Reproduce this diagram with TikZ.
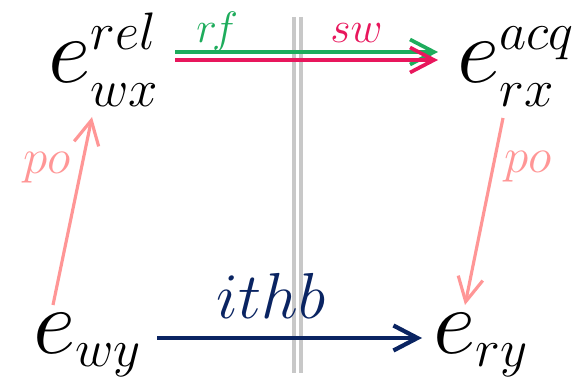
\RequirePackage{fix-cm}
\documentclass[tikz,border=0pt]{standalone}
\usepackage{amsmath}
\usepackage{tikz}
\usetikzlibrary{arrows.meta,positioning,calc}
\DeclareMathSizes{53}{53}{30}{22}
\definecolor{rfgreen}{RGB}{30,172,92}
\definecolor{swred}{RGB}{232,22,92}
\definecolor{popink}{RGB}{255,150,150}
\definecolor{hbnavy}{RGB}{10,36,98}
\definecolor{sepgray}{RGB}{200,200,200}

\begin{document}
\begin{tikzpicture}[>={Straight Barb[length=4.8mm,width=5mm]},
   ev/.style={inner sep=0pt,font=\fontsize{53}{60}\selectfont},
   lbl/.style={inner sep=0pt,font=\fontsize{25}{30}\selectfont},
   rel/.style={->,line width=2.1pt},
   po/.style={->,line width=1.8pt,draw=popink},
   sep/.style={line width=1.8pt,draw=sepgray}]
  \useasboundingbox (0,0) rectangle (11.44,7.62);
  % thread separator
  \draw[sep] (5.88,7.28) -- (5.88,0.16);
  \draw[sep] (6.02,7.28) -- (6.02,0.16);
  % events
  \node[ev,anchor=base west] (wx) at (0.96,5.96) {$e^{rel}_{wx}$};
  \node[ev,anchor=base west] (rx) at (9.14,5.96) {$e^{acq}_{rx}$};
  \node[ev,anchor=base west] (wy) at (0.66,0.56) {$e_{wy}$};
  \node[ev,anchor=base west] (ry) at (8.66,0.56) {$e_{ry}$};
  % reads-from and synchronises-with
  \draw[rel,rfgreen] ([shift={(2.54,0.62)}]wx.base west) -- node[lbl,pos=.16,anchor=base,yshift=.18cm]{$r\mkern-2mu f$} ([shift={(-0.38,0.62)}]rx.base west);
  \draw[rel,swred] ([shift={(2.54,0.46)}]wx.base west) -- node[lbl,pos=.69,anchor=base,yshift=.34cm]{$sw$} ([shift={(-0.38,0.46)}]rx.base west);
  % program order
  \draw[po] ([shift={(0.40,0.96)}]wy.base west) -- node[lbl,text=popink,font=\fontsize{28}{32}\selectfont,pos=.73,left=5pt]{$po$} ([shift={(0.88,-0.68)}]wx.base west);
  \draw[po] ([shift={(0.92,-0.70)}]rx.base west) -- node[lbl,text=popink,font=\fontsize{28}{32}\selectfont,pos=.26,right=5.5pt]{$po$} ([shift={(0.64,0.96)}]ry.base west);
  % inter-thread happens-before
  \draw[->,line width=2.4pt,hbnavy] ([shift={(2.48,0.30)}]wy.base west) -- node[lbl,font=\fontsize{37}{40}\selectfont,pos=.43,anchor=base,yshift=.4cm]{$ithb$} ([shift={(-0.22,0.30)}]ry.base west);
\end{tikzpicture}
\end{document}
